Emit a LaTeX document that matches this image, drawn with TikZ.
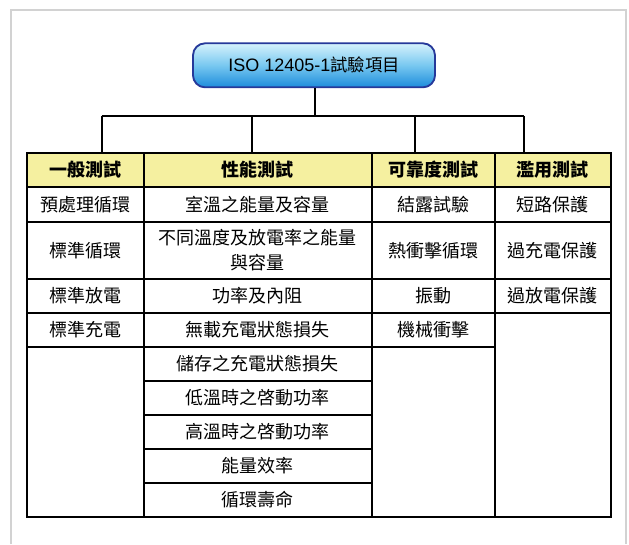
\documentclass[tikz,border=0pt]{standalone}
\usepackage{fontspec}
\setmainfont{Noto Sans CJK TC}
\newfontfamily\latinsans{Liberation Sans}
\usetikzlibrary{positioning}
\definecolor{hdrfill}{RGB}{245,240,160}
\definecolor{boxedge}{RGB}{38,57,154}
\definecolor{boxtop}{RGB}{214,242,252}
\definecolor{boxmid}{RGB}{120,200,240}
\definecolor{boxbot}{RGB}{28,140,220}
\definecolor{framegray}{RGB}{210,210,210}
\begin{document}
\begin{tikzpicture}[x=0.75pt,y=-0.75pt,
  cell/.style={draw=black, line width=1.4pt, fill=white, inner sep=0pt, anchor=north west,
    align=center, font=\fontsize{13.5}{18.75}\selectfont},
  hdr/.style={cell, fill=hdrfill, font=\fontsize{13.5}{18.75}\selectfont\bfseries},
  conn/.style={draw=black, line width=1.2pt},
  w1/.style={minimum width=87.75pt},
  w2/.style={minimum width=171pt},
  w3/.style={minimum width=92.25pt},
  w4/.style={minimum width=87pt},
  hA/.style={minimum height=25.5pt},
  hB/.style={minimum height=26.25pt},
  hC/.style={minimum height=42.75pt}]
\useasboundingbox (0,0) rectangle (629,544);
% outer frame
\draw[framegray, line width=1.5pt] (11,544) -- (11,9.5) -- (625.5,9.5) -- (625.5,544);
% title box
\node[draw=boxedge, line width=1.4pt, rounded corners=9pt, minimum width=181.5pt, minimum height=33pt,
  top color=boxtop, bottom color=boxbot, middle color=boxmid,
  font=\fontsize{13}{15}\selectfont] (top) at (314,65.3) {{\latinsans\fontsize{13.5}{15}\selectfont ISO 12405-1}試驗項目};
% table shadow
\fill[gray!35] (27.5,153.5) rectangle (612,518);
% headers
\node[hdr,w1,hA] (h1) at (26,152) {一般測試};
\node[hdr,w2,hA] (h2) at (143,152) {性能測試};
\node[hdr,w3,hA] (h3) at (371,152) {可靠度測試};
\node[hdr,w4,hA] (h4) at (494,152) {濫用測試};
% column 1
\node[cell,w1,hB] (a1) at (26,186) {預處理循環};
\node[cell,w1,hC] (a2) at (26,221) {標準循環};
\node[cell,w1,hA] (a3) at (26,278) {標準放電};
\node[cell,w1,hA] (a4) at (26,312) {標準充電};
\node[cell,w1,minimum height=127.5pt] (a5) at (26,346) {};
% column 2
\node[cell,w2,hB] (b1) at (143,186) {室溫之能量及容量};
\node[cell,w2,hC] (b2) at (143,221) {不同溫度及放電率之能量\\與容量};
\node[cell,w2,hA] (b3) at (143,278) {功率及內阻};
\node[cell,w2,hA] (b4) at (143,312) {無載充電狀態損失};
\node[cell,w2,hA] (b5) at (143,346) {儲存之充電狀態損失};
\node[cell,w2,hA] (b6) at (143,380) {低溫時之啓動功率};
\node[cell,w2,hA] (b7) at (143,414) {高溫時之啓動功率};
\node[cell,w2,hA] (b8) at (143,448) {能量效率};
\node[cell,w2,hA] (b9) at (143,482) {循環壽命};
% column 3
\node[cell,w3,hB] (c1) at (371,186) {結露試驗};
\node[cell,w3,hC] (c2) at (371,221) {熱衝擊循環};
\node[cell,w3,hA] (c3) at (371,278) {振動};
\node[cell,w3,hA] (c4) at (371,312) {機械衝擊};
\node[cell,w3,minimum height=127.5pt] (c5) at (371,346) {};
% column 4
\node[cell,w4,hB] (e1) at (494,186) {短路保護};
\node[cell,w4,hC] (e2) at (494,221) {過充電保護};
\node[cell,w4,hA] (e3) at (494,278) {過放電保護};
\node[cell,w4,minimum height=153pt] (e4) at (494,312) {};
% connectors
\coordinate (hub) at (315,116);
\coordinate (d1) at (101.7,116);
\coordinate (d2) at (251.7,116);
\coordinate (d3) at (415,116);
\coordinate (d4) at (524,116);
\draw[conn] (top.south -| hub) -- (hub);
\draw[conn] (d1) -- (d4);
\draw[conn] (d1) -- (d1 |- h1.north);
\draw[conn] (d2) -- (d2 |- h2.north);
\draw[conn] (d3) -- (d3 |- h3.north);
\draw[conn] (d4) -- (d4 |- h4.north);
\end{tikzpicture}
\end{document}
